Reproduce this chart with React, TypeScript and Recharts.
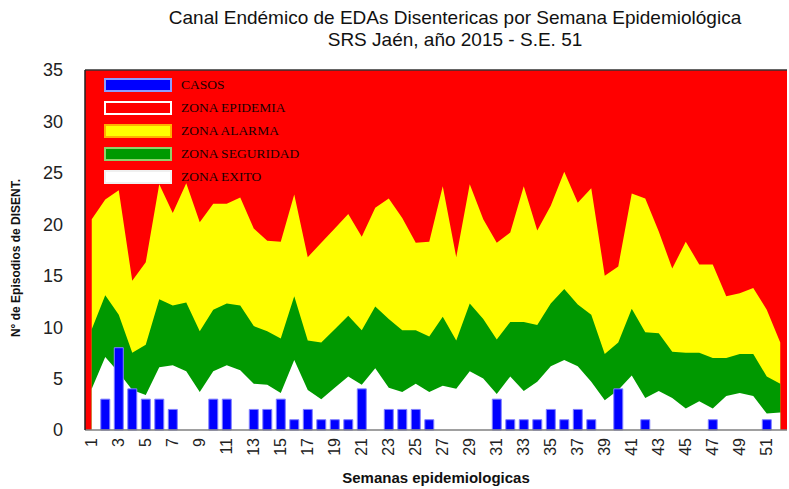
import React from 'react';
import {
  ComposedChart,
  Area,
  Bar,
  XAxis,
  YAxis,
  CartesianGrid,
  Legend,
  Label,
  ReferenceLine
} from 'recharts';

// semanas epidemiologicas 1..52
const semanas = [
  1, 2, 3, 4, 5, 6, 7, 8, 9, 10, 11, 12, 13, 14, 15, 16, 17, 18, 19, 20, 21, 22, 23, 24, 25, 26,
  27, 28, 29, 30, 31, 32, 33, 34, 35, 36, 37, 38, 39, 40, 41, 42, 43, 44, 45, 46, 47, 48, 49, 50, 51, 52
];

const casos = [
  0, 3, 8, 4, 3, 3, 2, 0, 0, 3, 3, 0, 2, 2, 3, 1, 2, 1, 1, 1, 4, 0, 2, 2, 2, 1,
  0, 0, 0, 0, 3, 1, 1, 1, 2, 1, 2, 1, 0, 4, 0, 1, 0, 0, 0, 0, 1, 0, 0, 0, 1, 0
];

// limite superior de cada zona
const limiteExito = [
  4.0, 7.1, 5.6, 3.9, 3.4, 6.1, 6.3, 5.7, 3.7, 5.7, 6.3, 5.8, 4.5, 4.4, 3.6, 6.8, 3.9, 3.0, 4.1, 5.2, 4.4, 6.0, 4.1, 3.7, 4.5, 3.7,
  4.3, 4.0, 5.7, 5.0, 3.5, 5.2, 3.8, 4.7, 6.2, 6.8, 6.2, 4.7, 2.9, 3.9, 5.3, 3.1, 3.8, 3.1, 2.1, 2.8, 2.1, 3.3, 3.6, 3.3, 1.6, 1.7
];

const limiteSeguridad = [
  9.8, 13.1, 11.2, 7.5, 8.3, 12.7, 12.1, 12.4, 9.6, 11.7, 12.3, 12.1, 10.1, 9.6, 8.9, 13.0, 8.7, 8.5, 9.8, 11.1, 9.7, 12.0, 10.8, 9.7, 9.7, 9.1,
  11.0, 8.7, 12.3, 10.8, 8.8, 10.5, 10.5, 10.2, 12.3, 13.7, 12.2, 11.2, 7.4, 8.5, 11.8, 9.5, 9.4, 7.6, 7.5, 7.5, 7.0, 7.0, 7.4, 7.4, 5.2, 4.5
];

const limiteAlarma = [
  20.5, 22.4, 23.3, 14.5, 16.3, 23.9, 21.1, 24.0, 20.2, 22.0, 22.0, 22.6, 19.6, 18.4, 18.3, 22.9, 16.8, 18.2, 19.6, 21.0, 18.8, 21.6, 22.5, 20.6, 18.2, 18.3,
  23.7, 16.8, 23.9, 20.5, 18.2, 19.2, 23.7, 19.4, 21.8, 25.1, 22.1, 23.5, 15.0, 15.9, 23.0, 22.5, 19.3, 15.7, 18.3, 16.1, 16.1, 13.0, 13.3, 13.8, 11.7, 8.5
];

const yTicks = [0, 5, 10, 15, 20, 25, 30, 35];
const xTicks = [1, 3, 5, 7, 9, 11, 13, 15, 17, 19, 21, 23, 25, 27, 29, 31, 33, 35, 37, 39, 41, 43, 45, 47, 49, 51];

const legendItems = [
  { label: 'CASOS', fill: '#0000FF', stroke: '#8c9cff' },
  { label: 'ZONA EPIDEMIA', fill: '#FF0000', stroke: '#ffffff' },
  { label: 'ZONA ALARMA', fill: '#FFFF00', stroke: '#ffb000' },
  { label: 'ZONA SEGURIDAD', fill: '#009900', stroke: '#8fd06a' },
  { label: 'ZONA EXITO', fill: '#FFFFFF', stroke: '#f0f0f0' }
];

const data = semanas.map((s, i) => ({
  semana: s,
  casos: casos[i],
  exito: limiteExito[i],
  seguridad: limiteSeguridad[i],
  alarma: limiteAlarma[i]
}));

const SANS = '"Liberation Sans", Arial, sans-serif';

const XTick = ({ x, y, payload }: any) => (
  <text
    x={x}
    y={y}
    transform={`rotate(-90 ${x} ${y})`}
    textAnchor="end"
    dominantBaseline="central"
    fontSize={16}
    fontFamily={SANS}
    fill="#222"
  >
    {payload.value}
  </text>
);

const ZonasLegend = () => (
  <div style={{ fontFamily: '"Liberation Serif", "Times New Roman", serif', fontSize: 13.5, color: '#1a0000' }}>
    {legendItems.map(item => (
      <div key={item.label} style={{ display: 'flex', alignItems: 'center', height: 23 }}>
        <span
          style={{
            display: 'inline-block',
            width: 64,
            height: 10,
            background: item.fill,
            border: `2px solid ${item.stroke}`,
            marginRight: 9
          }}
        />
        <span>{item.label}</span>
      </div>
    ))}
  </div>
);

export default function App() {
  return (
    <div style={{ position: 'absolute', left: 0, top: 0, width: 789, height: 489, background: '#fff' }}>
      <div
        style={{
          position: 'absolute',
          left: 105,
          top: 7,
          width: 700,
          textAlign: 'center',
          fontFamily: SANS,
          fontSize: 19,
          lineHeight: '22px',
          color: '#111'
        }}
      >
        <div>Canal Endémico de EDAs Disentericas por Semana Epidemiológica</div>
        <div>SRS Jaén, año 2015 - S.E. 51</div>
      </div>
      <ComposedChart
        width={789}
        height={489}
        data={data}
        margin={{ top: 70, right: 2, bottom: 19, left: 0 }}
        barCategoryGap="17%"
      >
        <CartesianGrid horizontal={false} vertical={false} fill="#FF0000" />
        <Area
          type="linear"
          dataKey="alarma"
          fill="#FFFF00"
          fillOpacity={1}
          stroke="none"
          isAnimationActive={false}
        />
        <Area
          type="linear"
          dataKey="seguridad"
          fill="#009900"
          fillOpacity={1}
          stroke="none"
          isAnimationActive={false}
        />
        <Area
          type="linear"
          dataKey="exito"
          fill="#FFFFFF"
          fillOpacity={1}
          stroke="none"
          isAnimationActive={false}
        />
        <Bar dataKey="casos" fill="#0000FF" stroke="#8080ff" strokeWidth={1} isAnimationActive={false} />
        <ReferenceLine y={35} stroke="#333" strokeWidth={1.5} />
        <XAxis
          dataKey="semana"
          ticks={xTicks}
          interval={0}
          height={40}
          tick={<XTick />}
          tickLine={false}
          axisLine={{ stroke: '#808080', strokeWidth: 1.5 }}
        >
          <Label
            value="Semanas epidemiologicas"
            position="bottom"
            offset={2}
            style={{ fontFamily: SANS, fontSize: 15, fontWeight: 'bold', fill: '#111' }}
          />
        </XAxis>
        <YAxis
          width={85}
          domain={[0, 35]}
          ticks={yTicks}
          interval={0}
          tickLine={false}
          tickMargin={16}
          tick={{ fontSize: 18, fontFamily: SANS, fill: '#222' }}
          axisLine={{ stroke: '#222', strokeWidth: 1.5 }}
        >
          <Label
            content={() => (
              <text
                x={20}
                y={258}
                transform="rotate(-90 20 258)"
                textAnchor="middle"
                fontFamily={SANS}
                fontSize={12}
                fontWeight="bold"
                fill="#111"
              >
                N° de Episodios de DISENT.
              </text>
            )}
          />
        </YAxis>
        <YAxis
          yAxisId="borde"
          orientation="right"
          width={0}
          domain={[0, 35]}
          tick={false}
          tickLine={false}
          axisLine={{ stroke: '#333', strokeWidth: 1.5 }}
        />
        <Legend
          layout="vertical"
          align="center"
          verticalAlign="middle"
          content={<ZonasLegend />}
          wrapperStyle={{ position: 'absolute', left: 104, top: 73, width: 'auto', height: 'auto' }}
        />
      </ComposedChart>
    </div>
  );
}
